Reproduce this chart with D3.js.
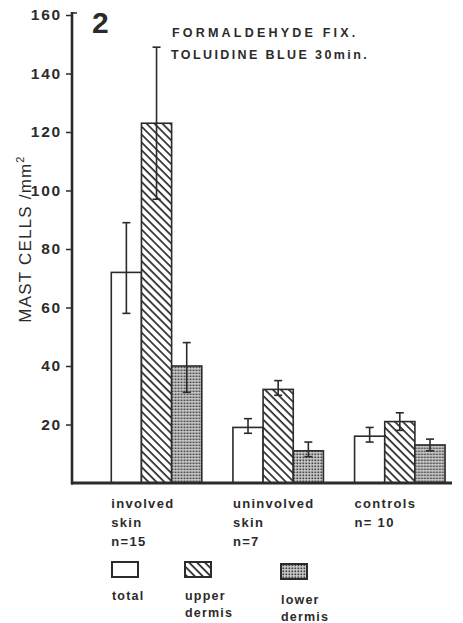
<!DOCTYPE html>
<html>
<head>
<meta charset="utf-8">
<script src="https://cdn.jsdelivr.net/npm/d3@7"></script>
<style>
body { margin: 0; background: #fff; }
svg text { font-family: "Liberation Sans", Arial, sans-serif; fill: #2b2b2b; }
</style>
</head>
<body>
<div class="container"></div>
<script>
var W = 463, H = 623;
var svg = d3.select('.container').append('svg').attr("width", W).attr("height", H);

// data
var groups = ["involved", "uninvolved", "controls"];
var groupLabels = [["involved", "skin", "n=15"], ["uninvolved", "skin", "n=7"], ["controls", "n= 10"]];
var layers = ["total", "upper", "lower"];
var layerLabels = [["total"], ["upper", "dermis"], ["lower", "dermis"]];
var means = [[72, 123, 40], [19, 32, 11], [16, 21, 13]];
var errLo = [[58, 97, 31], [17, 30, 9], [14, 18, 11]];
var errHi = [[89, 149, 48], [22, 35, 14], [19, 24, 15]];
var yTicks = [20, 40, 60, 80, 100, 120, 140, 160];

const AXISX = 72;
const BASEY = 483;
const TOPY = 15;
const INK = "#2b2b2b";

var y = d3.scaleLinear().domain([0, 160]).range([BASEY, TOPY]);
var x0 = d3.scaleBand().domain(groups).range([AXISX, 452])
  .paddingInner(0.256).paddingOuter(0.19).align(0.85);
var x1 = d3.scaleBand().domain(layers).range([0, x0.bandwidth()]);

// fill patterns
var defs = svg.append("defs");
var hatch = defs.append("pattern").attr("id", "hatch")
  .attr("patternUnits", "userSpaceOnUse").attr("width", 5.6).attr("height", 5.6)
  .attr("patternTransform", "rotate(45)");
hatch.append("rect").attr("width", 5.6).attr("height", 5.6).attr("fill", "#fff");
hatch.append("rect").attr("y", 0).attr("width", 5.6).attr("height", 1.7).attr("fill", INK);

var dots = defs.append("pattern").attr("id", "dots")
  .attr("patternUnits", "userSpaceOnUse").attr("width", 3).attr("height", 3);
dots.append("rect").attr("width", 3).attr("height", 3).attr("fill", "#d0d0d0");
dots.append("rect").attr("x", 0.5).attr("y", 0.5).attr("width", 1.7).attr("height", 1.7).attr("fill", "#3a3a3a");

var fills = {total: "#fff", upper: "url(#hatch)", lower: "url(#dots)"};

// bars
var g = svg.append("g").selectAll("g").data(groups).enter().append("g")
  .attr("transform", function(d){ return "translate(" + x0(d) + ",0)"; });

g.selectAll("rect").data(function(d, i){
    return layers.map(function(l, j){ return {layer: l, v: means[i][j], lo: errLo[i][j], hi: errHi[i][j]}; });
  }).enter().append("rect")
  .attr("x", function(d){ return x1(d.layer); })
  .attr("y", function(d){ return y(d.v); })
  .attr("width", x1.bandwidth())
  .attr("height", function(d){ return y(0) - y(d.v); })
  .attr("fill", function(d){ return fills[d.layer]; })
  .attr("stroke", INK).attr("stroke-width", 1.6);

// error bars
var eb = g.selectAll("g.err").data(function(d, i){
    return layers.map(function(l, j){ return {layer: l, lo: errLo[i][j], hi: errHi[i][j]}; });
  }).enter().append("g").attr("class", "err")
  .attr("transform", function(d){ return "translate(" + (x1(d.layer) + x1.bandwidth()/2) + ",0)"; });
eb.append("line").attr("x1", 0).attr("x2", 0)
  .attr("y1", function(d){ return y(d.hi); }).attr("y2", function(d){ return y(d.lo); })
  .attr("stroke", INK).attr("stroke-width", 1.6);
eb.selectAll("line.cap").data(function(d){ return [d.hi, d.lo]; }).enter().append("line")
  .attr("class", "cap").attr("x1", -4).attr("x2", 4)
  .attr("y1", function(v){ return y(v); }).attr("y2", function(v){ return y(v); })
  .attr("stroke", INK).attr("stroke-width", 1.6);

// axes
var yAxis = svg.append("g").attr("transform", "translate(" + AXISX + ",0)")
  .call(d3.axisLeft(y).tickValues(yTicks).tickSize(6).tickPadding(4));
yAxis.select(".domain").remove();
yAxis.selectAll(".tick line").attr("stroke", INK).attr("stroke-width", 1.5);
yAxis.selectAll(".tick text").attr("font-size", 15.5).attr("font-weight", "bold")
  .attr("letter-spacing", "1.8px").attr("fill", INK).style("font-family", "'Liberation Sans', Arial, sans-serif");

svg.append("line").attr("x1", AXISX).attr("x2", AXISX).attr("y1", TOPY - 3).attr("y2", BASEY + 1.5)
  .attr("stroke", INK).attr("stroke-width", 2.6);
svg.append("line").attr("x1", AXISX).attr("x2", AXISX + 5).attr("y1", TOPY - 2).attr("y2", TOPY - 2)
  .attr("stroke", INK).attr("stroke-width", 1.5);
svg.append("line").attr("x1", AXISX - 1).attr("x2", 452).attr("y1", BASEY).attr("y2", BASEY)
  .attr("stroke", INK).attr("stroke-width", 3);

// y label
svg.append("text").attr("transform", "translate(31,239) rotate(-90)")
  .attr("text-anchor", "middle").attr("font-size", 17).attr("letter-spacing", "1.2px")
  .attr("fill", "#444")
  .text("MAST CELLS /mm").append("tspan").attr("font-size", 11).attr("dy", -7).text("2");

// panel number and title
svg.append("text").attr("x", 92).attr("y", 33).attr("font-size", 30).attr("font-weight", "bold").text("2");
svg.append("text").attr("x", 172).attr("y", 37).attr("font-size", 12.5).attr("font-weight", "bold")
  .attr("letter-spacing", "3.2px").text("FORMALDEHYDE  FIX.");
svg.append("text").attr("x", 171).attr("y", 59).attr("font-size", 12.5).attr("font-weight", "bold")
  .attr("letter-spacing", "2.4px").text("TOLUIDINE  BLUE  30min.");

// category labels
groups.forEach(function(grp, i){
  var t = svg.append("text").attr("x", x0(grp)).attr("y", 508)
    .attr("font-size", 13).attr("font-weight", "bold").attr("letter-spacing", "1.3px");
  t.selectAll("tspan").data(groupLabels[i]).enter().append("tspan")
    .attr("x", x0(grp)).attr("dy", function(d, k){ return k === 0 ? 0 : 19; })
    .text(function(d){ return d; });
});

// legend
var legX = [112, 185, 281];
var legDy = [0, 0, 2];
layers.forEach(function(l, i){
  svg.append("rect").attr("x", legX[i]).attr("y", 562 + legDy[i]).attr("width", 26).attr("height", 15)
    .attr("fill", fills[l]).attr("stroke", INK).attr("stroke-width", 2);
  var t = svg.append("text").attr("x", legX[i]).attr("y", 600 + legDy[i] * 2)
    .attr("font-size", 12.5).attr("font-weight", "bold").attr("letter-spacing", "1.2px");
  t.selectAll("tspan").data(layerLabels[i]).enter().append("tspan")
    .attr("x", legX[i]).attr("dy", function(d, k){ return k === 0 ? 0 : 17; })
    .text(function(d){ return d; });
});
</script>
</body>
</html>
